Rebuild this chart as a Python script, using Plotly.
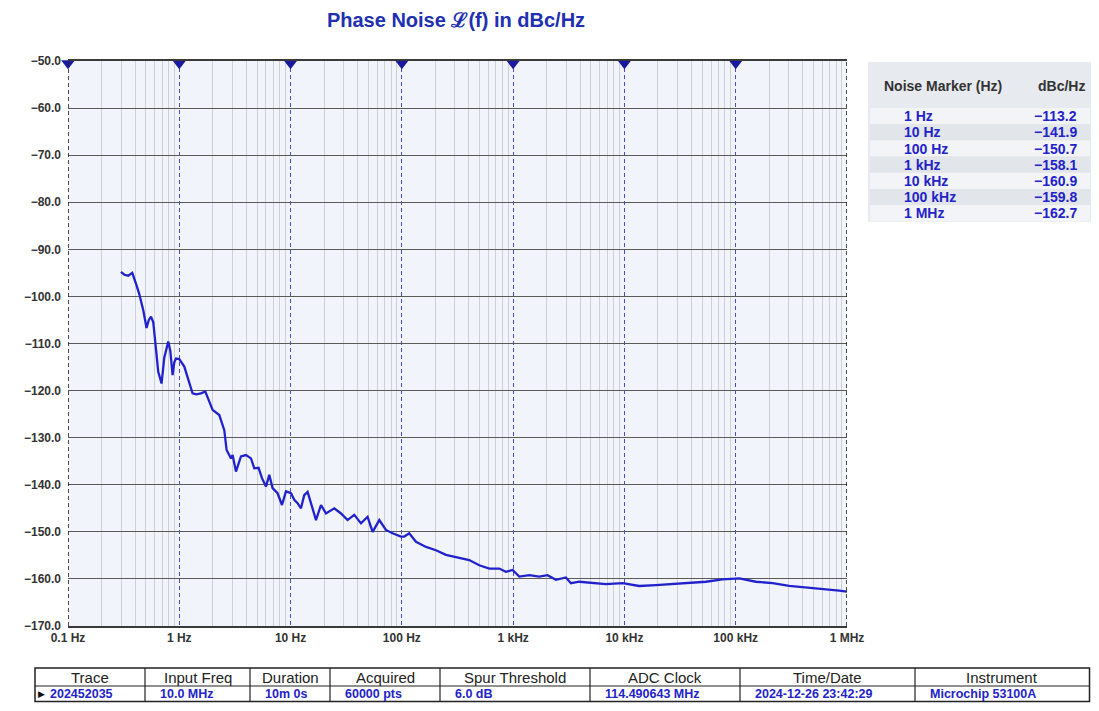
import plotly.graph_objects as go

# page body has an 8px margin: figure is drawn from screen (8, 8);
# keep the page inside the window so no scrollbars appear
OFF = 8
W, H = 1099 - 2 * OFF, 711 - 2 * OFF

# ---------------- data ----------------
freq_hz = [0.299, 0.321, 0.348, 0.378, 0.411, 0.437, 0.475, 0.508, 0.532, 0.557,
           0.584, 0.608, 0.647, 0.693, 0.733, 0.796, 0.830, 0.871, 0.902, 0.934,
           1.0, 1.109, 1.205, 1.316, 1.422, 1.566, 1.713, 1.862, 1.992, 2.288,
           2.537, 2.661, 2.915, 3.013, 3.230, 3.583, 3.974, 4.408, 4.721, 5.157,
           5.533, 6.011, 6.435, 6.891, 7.643, 8.370, 9.096, 10.09, 10.79, 11.56,
           12.40, 13.27, 14.22, 15.25, 16.92, 18.77, 20.81, 24.71, 28.38, 32.53,
           37.35, 42.92, 49.2, 54.6, 62.7, 71.9, 82.5, 98.2, 105.2, 116.5,
           133.9, 164.8, 202.5, 249, 328, 403, 496, 610, 750, 861,
           989, 1135, 1396, 1715, 2037, 2425, 2981, 3305, 3925, 5166,
           6821, 9616, 13580, 19190, 27050, 38200, 53960, 76050, 97000, 107500,
           151800, 214200, 302500, 427300, 602500, 851000, 1000000]
pn_dbc = [-94.8, -95.4, -95.6, -95.0, -97.5, -99.5, -103.0, -106.7, -105.0, -104.3,
          -105.5, -110.0, -116.0, -118.5, -113.0, -109.6, -111.5, -116.7, -114.0, -113.2,
          -113.3, -114.9, -117.5, -120.6, -120.8, -120.6, -120.2, -122.5, -124.1, -125.2,
          -128.4, -132.6, -134.4, -133.7, -137.2, -134.0, -133.7, -134.4, -136.5, -136.4,
          -138.6, -140.4, -137.9, -140.7, -141.8, -144.3, -141.4, -141.8, -143.2, -143.9,
          -145.0, -142.2, -141.5, -143.9, -147.5, -144.3, -146.1, -145.0, -146.1, -147.5,
          -146.4, -148.2, -146.8, -150.0, -147.5, -149.6, -150.3, -151.0, -151.0, -150.3,
          -152.1, -153.2, -153.9, -154.9, -155.6, -156.0, -157.1, -157.8, -157.8, -158.5,
          -158.1, -159.5, -159.2, -159.5, -159.2, -160.2, -159.7, -160.9, -160.6, -160.8,
          -161.1, -160.9, -161.5, -161.3, -161.1, -160.9, -160.6, -160.1, -159.9, -159.9,
          -160.6, -160.9, -161.5, -161.8, -162.2, -162.5, -162.7]

decade_vals = [0.1, 1, 10, 100, 1e3, 1e4, 1e5, 1e6]
decade_text = ["0.1 Hz", "1 Hz", "10 Hz", "100 Hz", "1 kHz", "10 kHz", "100 kHz", "1 MHz"]
marker_freqs = [0.1, 1, 10, 100, 1e3, 1e4, 1e5]

marker_labels = ["1 Hz", "10 Hz", "100 Hz", "1 kHz", "10 kHz", "100 kHz", "1 MHz"]
marker_values = ["\u2212113.2", "\u2212141.9", "\u2212150.7", "\u2212158.1",
                 "\u2212160.9", "\u2212159.8", "\u2212162.7"]

info_headers = ["Trace", "Input Freq", "Duration", "Acquired", "Spur Threshold",
                "ADC Clock", "Time/Date", "Instrument"]
info_values = ["202452035", "10.0 MHz", "10m 0s", "60000 pts", "6.0 dB",
               "114.490643 MHz", "2024-12-26 23:42:29", "Microchip 53100A"]

# ---------------- helpers (screen pixel -> paper) ----------------
def px(x):
    return (x - OFF) / W

def py(y):
    return (H - (y - OFF)) / H

SANS = "Liberation Sans, Arial"
NARROW = "Liberation Sans Narrow, Arial Narrow, Liberation Sans, Arial"
BLUE_TXT = "#2323c8"

fig = go.Figure()

fig.add_trace(go.Scatter(
    x=freq_hz, y=pn_dbc, mode="lines",
    line=dict(color="#2222cc", width=2.3),
    hoverinfo="skip", showlegend=False))

fig.add_trace(go.Scatter(
    x=marker_freqs, y=[-50.5] * len(marker_freqs), mode="markers",
    marker=dict(symbol="triangle-down", size=12, color="#1a1aa0"),
    cliponaxis=False, hoverinfo="skip", showlegend=False))

x0, x1 = 68, 847
y0, y1 = 61, 626

minor_vals = [m * d for d in [0.1, 1, 10, 100, 1e3, 1e4, 1e5] for m in range(2, 10)]

fig.update_layout(
    width=W, height=H,
    margin=dict(l=0, r=0, t=0, b=0),
    paper_bgcolor="white",
    plot_bgcolor="#f1f5fb",
    showlegend=False,
    title=dict(text="<b>Phase Noise \u2112(f) in dBc/Hz</b>",
               x=px(456), xanchor="center", xref="paper",
               y=py(20), yanchor="middle", yref="container",
               font=dict(family=SANS, size=20, color="#2030b0")),
    xaxis=dict(
        type="log", domain=[px(x0), px(x1)], range=[-1, 6],
        tickvals=decade_vals, ticktext=decade_text,
        tickfont=dict(family=NARROW, size=12, color="#333333", weight="bold"),
        showgrid=True, gridcolor="#4a4ad2", gridwidth=1.2, griddash="4px,3px",
        minor=dict(tickvals=minor_vals, showgrid=True, gridcolor="#cdd1d7",
                   gridwidth=1, griddash="solid"),
        showline=True, linecolor="#3a3a3a", linewidth=2, mirror=True,
        zeroline=False, ticks="", automargin=False,
    ),
    yaxis=dict(
        domain=[py(y1), py(y0)], range=[-170, -50], dtick=10, tick0=-170,
        tickformat=".1f",
        tickfont=dict(family=SANS, size=12, color="#333333", weight="bold"),
        showgrid=True, gridcolor="#5a5a5a", gridwidth=1,
        showline=False, zeroline=False, ticks="", ticklabelstandoff=6,
        automargin=False,
    ),
)

shapes = []
# left and right black dashed borders
for xv in [0.1, 1e6]:
    shapes.append(dict(type="line", xref="x", yref="paper", x0=xv, x1=xv,
                       y0=py(y1), y1=py(y0),
                       line=dict(color="#222222", width=1.6, dash="4px,3px")))

# right marker panel
RP_R = OFF + W
shapes.append(dict(type="rect", xref="paper", yref="paper",
                   x0=px(868), x1=px(RP_R), y0=py(222), y1=py(62),
                   fillcolor="#e7eaee", line=dict(width=0), layer="below"))
row_top = 108
row_h = 16.2
for i in range(len(marker_labels)):
    ya = row_top + i * row_h
    shapes.append(dict(type="rect", xref="paper", yref="paper",
                       x0=px(870), x1=px(RP_R - 1), y0=py(ya + row_h), y1=py(ya),
                       fillcolor="#f3f4f7" if i % 2 == 0 else "#e2e5ea",
                       line=dict(width=0), layer="below"))

# bottom info table
col_edges = [35, 145, 250, 330, 440, 590, 740, 915, RP_R - 1.5]
t_top, t_mid, t_bot = 668, 686, 701.5
shapes.append(dict(type="rect", xref="paper", yref="paper",
                   x0=px(col_edges[0]), x1=px(col_edges[-1]), y0=py(t_bot), y1=py(t_top),
                   fillcolor="white", line=dict(color="#222222", width=1.5)))
shapes.append(dict(type="line", xref="paper", yref="paper",
                   x0=px(col_edges[0]), x1=px(col_edges[-1]), y0=py(t_mid), y1=py(t_mid),
                   line=dict(color="#222222", width=1.2)))
for e in col_edges[1:-1]:
    shapes.append(dict(type="line", xref="paper", yref="paper",
                       x0=px(e), x1=px(e), y0=py(t_bot), y1=py(t_top),
                       line=dict(color="#222222", width=1.2)))

fig.update_layout(shapes=shapes)

ann = []
# panel header
ann.append(dict(text="<b>Noise Marker (Hz)</b>", x=px(943), y=py(86), xref="paper", yref="paper",
                showarrow=False, xanchor="center", yanchor="middle",
                font=dict(family=SANS, size=14, color="#333333")))
ann.append(dict(text="<b>dBc/Hz</b>", x=px(1061), y=py(86), xref="paper", yref="paper",
                showarrow=False, xanchor="center", yanchor="middle",
                font=dict(family=SANS, size=14, color="#333333")))
for i, (lab, val) in enumerate(zip(marker_labels, marker_values)):
    yc = row_top + i * row_h + row_h / 2
    ann.append(dict(text="<b>" + lab + "</b>", x=px(902), y=py(yc), xref="paper", yref="paper",
                    showarrow=False, xanchor="left", yanchor="middle",
                    font=dict(family=SANS, size=14, color=BLUE_TXT)))
    ann.append(dict(text="<b>" + val + "</b>", x=px(1079), y=py(yc), xref="paper", yref="paper",
                    showarrow=False, xanchor="right", yanchor="middle",
                    font=dict(family=SANS, size=14, color=BLUE_TXT)))

# bottom table texts
for i, (hd, vv) in enumerate(zip(info_headers, info_values)):
    cl, cr = col_edges[i], col_edges[i + 1]
    ann.append(dict(text=hd, x=px((cl + cr) / 2), y=py((t_top + t_mid) / 2),
                    xref="paper", yref="paper", showarrow=False,
                    xanchor="center", yanchor="middle",
                    font=dict(family=NARROW, size=15, color="#222222")))
    ann.append(dict(text="<b>" + vv + "</b>", x=px(cl + 13), y=py((t_mid + t_bot) / 2),
                    xref="paper", yref="paper", showarrow=False,
                    xanchor="left", yanchor="middle",
                    font=dict(family=NARROW, size=12.5, color=BLUE_TXT)))
ann.append(dict(text="\u25B6", x=px(36), y=py((t_mid + t_bot) / 2), xref="paper", yref="paper",
                showarrow=False, xanchor="left", yanchor="middle",
                font=dict(family="DejaVu Sans", size=9, color="#111111")))

fig.update_layout(annotations=ann)

fig.write_html("out.html")
